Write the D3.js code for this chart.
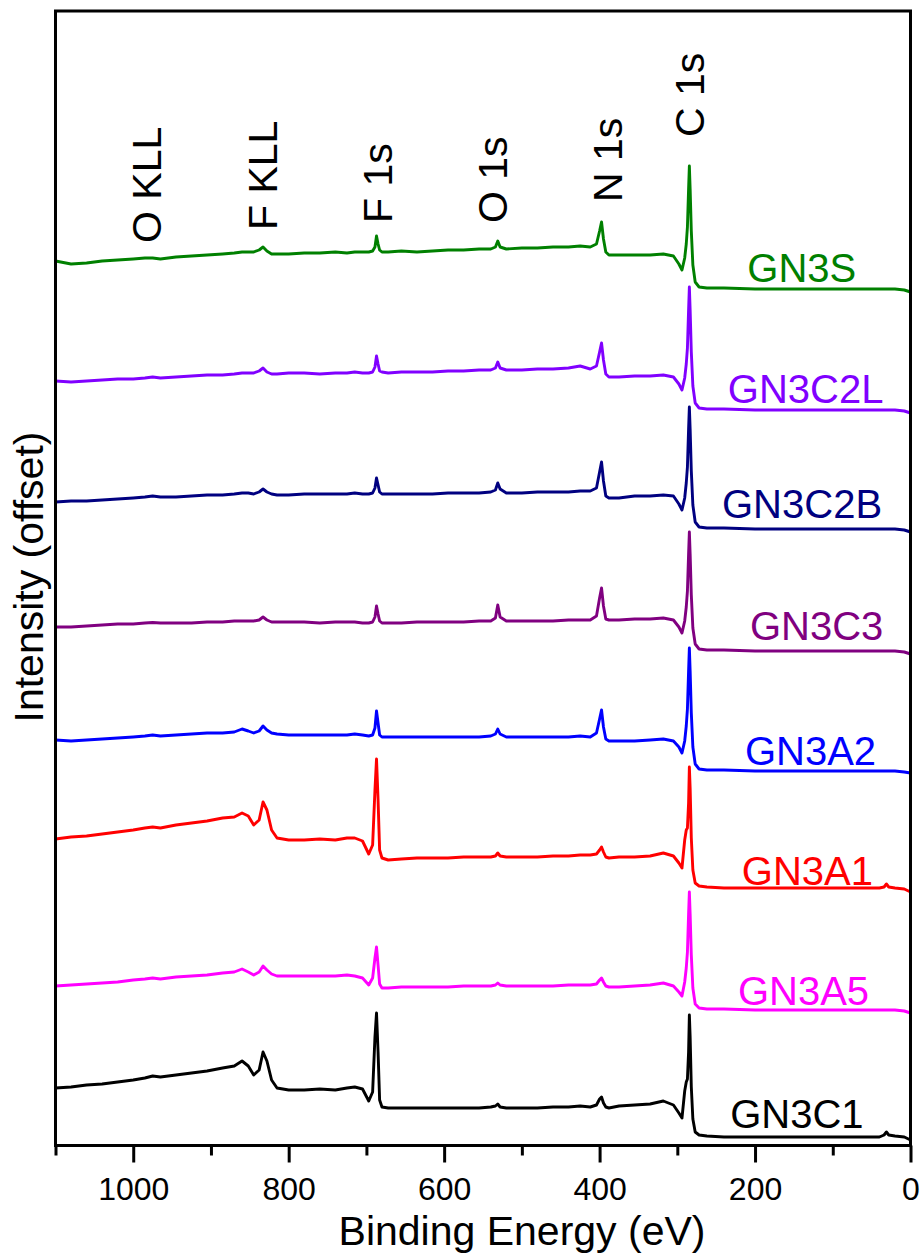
<!DOCTYPE html>
<html><head><meta charset="utf-8">
<script src="https://cdn.jsdelivr.net/npm/d3@7"></script>
<style>body{margin:0;background:#fff} svg{display:block}</style>
</head><body>
<svg id="c" width="923" height="1254"></svg>
<script>
// Binding energy grid (eV)
const energies = [1100,1080,1060,1040,1020,1000,985,975,965,945,925,905,885,870,860,852,845,838,833,828,822,815,800,780,760,740,725,715,705,697,692,689,687,685,683,680,672,655,635,615,595,575,555,540,534,531,528,520,500,480,460,440,425,412,404,400,397.5,395,392,388,375,355,335,318,305,298,294,290.5,288.5,287,285.5,284.5,283.5,282,280,277,272,262,240,200,150,100,60,40,34,31,28,20,8,0];

const sampleNames  = ["GN3S","GN3C2L","GN3C2B","GN3C3","GN3A2","GN3A1","GN3A5","GN3C1"];
const sampleColors = ["#008000","#8000ff","#000080","#800080","#0000ff","#ff0000","#ff00ff","#000000"];
const offsets      = [857,736,617,495,375,258,136,9];

// intensities above each trace's own baseline (arbitrary units)
const GN3S   = [28,25,26,28,29,30,31,31,30,32,33,34,35,36,37,37,37,39,42,38,35,35,35,36,36,37,36,37,37,37,38,42,53,45,39,37,37,38,37,38,39,39,40,40,42,48,42,40,41,41,42,42,43,42,45,58,67,50,37,34,34,34,34,35,33,25,19,31,45,62,100,123,100,58,24,7,2,1,1,0,0,0,0,0,0,0,0,0,-1,-3];
const GN3C2L = [29,28,29,30,31,31,32,33,32,33,34,35,35,36,37,37,37,39,42,38,36,36,37,37,36,37,37,38,37,37,38,43,54,46,39,38,37,38,38,38,39,39,40,40,42,48,42,40,40,41,41,42,44,41,44,58,67,50,36,33,33,34,34,35,33,26,20,32,46,62,100,123,100,58,24,7,2,1,1,0,0,0,0,0,0,0,0,0,-1,-3];
const GN3C2B = [27,28,28,29,30,31,32,33,32,32,33,34,34,35,36,36,35,37,40,37,35,34,34,35,35,35,35,36,35,35,36,41,51,44,37,35,35,35,35,35,36,36,36,37,39,46,40,36,36,37,37,37,38,38,41,57,67,48,33,31,31,33,33,34,33,25,19,31,46,62,100,122,100,58,24,7,2,1,1,0,0,0,0,0,0,0,0,0,-1,-3];
const GN3C3  = [24,24,25,26,27,27,28,28.5,28,28,28,29,29,30,30,30,30,31,34,31,29,29,29,29,28,29,29,29,28,28,29,34,45,37,30,28,28,28,29,29,29,29,30,30,33,46,34,30,30,30,30,31,31,31,35,53,63,45,32,31,31,32,32,33,31,24,18,30,44,60,97,119,97,56,23,7,2,1,1,0,0,0,0,0,0,0,0,0,-1,-3];
const GN3A2  = [31,30,31,32,33,34,35,36,35,36,37,38,38,39,42,40,38,40,45,41,38,37,36,36,36,36,36,37,36,35,36,43,60,48,36,34,34,34,34,34,34,34,34,35,37,42,37,34,34,34,34,34,35,34,38,52,61,44,32,30,30,30,31,32,30,24,18,30,45,62,100,123,100,58,24,7,2,1,1,0,0,0,0,0,0,0,0,0,-1,-2];
const GN3A1  = [49,51,52,54,56,58,60,61,60,63,65,67,70,71,75,72,63,68,86,78,58,50,48,48,49,48,50,50,47,34,43,98,129,88,38,30,28,29,30,30,30,31,31,31,32,35,32,31,31,31,32,32,33,33,34,38,41,36,31,30,31,31,32,35,32,25,20,48,58,60,85,121,100,50,18,5,2,1,0,0,0,0,0,0,1,4,1,0,-1,-4];
const GN3A5  = [24,25,26,27,28,30,31,32,31,33,34,35,37,38,41,38,35,38,44,40,36,34,34,34,34,34,35,34,32,25,32,52,63,45,26,22,22,23,23,23,23,24,24,24,25,27,25,24,24,24,24,25,25,25,26,30,32,28,24,23,23,24,25,27,24,18,14,28,42,58,96,118,96,55,22,6,2,1,1,0,0,0,0,0,0,0,0,0,-1,-3];
const GN3C1  = [49,50,52,53,55,57,59,61,60,62,64,66,69,71,76,71,62,67,85,76,57,49,47,47,48,47,49,50,48,36,45,100,124,85,37,30,29,29,29,29,29,29,29,30,31,33,30,29,29,29,30,30,31,30,32,38,40,34,30,29,31,32,33,36,32,24,19,46,55,58,85,122,100,50,18,5,2,1,0,0,0,0,0,0,2,5,2,1,0,-3];
const seriesValues = [GN3S,GN3C2L,GN3C2B,GN3C3,GN3A2,GN3A1,GN3A5,GN3C1];

// sample label anchors (energy where text starts, height above trace baseline)
const labelEnergy = [210,235,242.5,206.5,213,217,222,232];
const labelLift   = [7,7,11,11,6,3,5,9];

// peak annotations
const peakNames  = ["O KLL","F KLL","F 1s","O 1s","N 1s","C 1s"];
const peakEnergy = [984,834,686,538,390,285];
const peakLevel  = [903,916,923,923,944,1009];

const majorTicks = [1000,800,600,400,200,0];
const minorTicks = [1100,900,700,500,300,100];

const svg = d3.select("#c");
const font = "'Liberation Sans', Arial, Helvetica, sans-serif";
const x = d3.scaleLinear().domain([1100,0]).range([55.5,910.5]);
const y = d3.scaleLinear().domain([0,1135]).range([1146,11]);

const line = d3.line().x(d=>x(d[0])).y(d=>y(d[1]));
seriesValues.forEach((vals,i)=>{
  const pts = energies.map((e,j)=>[e, vals[j]+offsets[i]]);
  svg.append("path").attr("d", line(pts))
    .attr("fill","none").attr("stroke",sampleColors[i])
    .attr("stroke-width",2.9).attr("stroke-linejoin","round");
  svg.append("text").attr("x", x(labelEnergy[i])).attr("y", y(offsets[i]+labelLift[i]))
    .attr("font-family",font).attr("font-size",40).attr("fill",sampleColors[i])
    .text(sampleNames[i]);
});

// peak labels
peakNames.forEach((n,i)=>{
  svg.append("text")
    .attr("transform",`translate(${x(peakEnergy[i])+15},${y(peakLevel[i])}) rotate(-90)`)
    .attr("font-family",font).attr("font-size",41).attr("fill","#000")
    .text(n);
});

// axes
const gMaj = svg.append("g").attr("transform","translate(0,1145.5)")
  .call(d3.axisBottom(x).tickValues(majorTicks).tickSize(17).tickPadding(15).tickFormat(d3.format("d")));
const gMin = svg.append("g").attr("transform","translate(0,1145.5)")
  .call(d3.axisBottom(x).tickValues(minorTicks).tickSize(10).tickFormat(""));
[gMaj,gMin].forEach(g=>{
  g.select(".domain").remove();
  g.selectAll(".tick line").attr("stroke","#000").attr("stroke-width",3);
  g.selectAll(".tick text").attr("font-family",font).attr("font-size",32).attr("fill","#000");
});

// frame
svg.append("rect").attr("x",55.5).attr("y",11).attr("width",855).attr("height",1134.5)
  .attr("fill","none").attr("stroke","#000").attr("stroke-width",3);

// titles
svg.append("text").attr("x",522).attr("y",1245).attr("text-anchor","middle")
  .attr("font-family",font).attr("font-size",41).attr("fill","#000").text("Binding Energy (eV)");
svg.append("text").attr("transform","translate(43,577) rotate(-90)").attr("text-anchor","middle")
  .attr("font-family",font).attr("font-size",41).attr("fill","#000").text("Intensity (offset)");
</script>
</body></html>
